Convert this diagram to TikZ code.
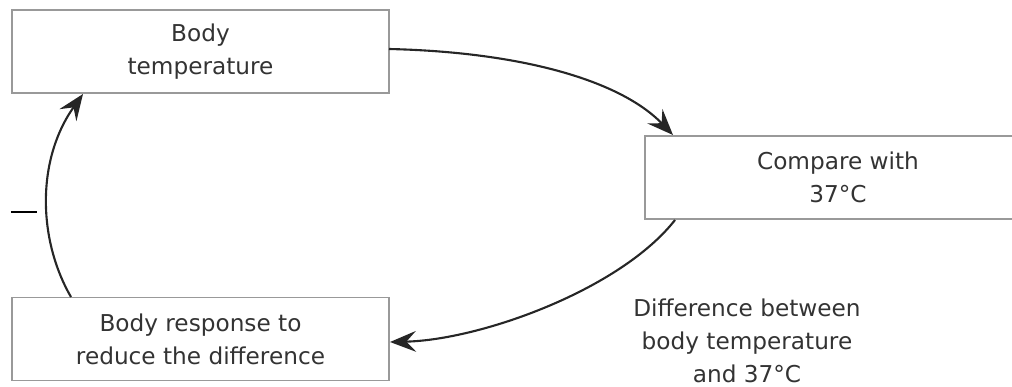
\documentclass[tikz,border=0pt]{standalone}
\usepackage{fontspec}
\setmainfont{DejaVu Sans}
\usetikzlibrary{arrows.meta}

\begin{document}
\begin{tikzpicture}[
    x=0.025cm, y=-0.025cm,
    box node/.style={draw=black!40, line width=1.2pt, minimum width=9.425cm,
        minimum height=2.08cm, align=center, inner sep=0pt,
        font=\fontsize{16.5}{23.5}\selectfont, text=black!80},
    loop edge/.style={line width=1.5pt, black!85,
        -{Stealth[length=6.5mm, width=5.2mm, inset=2.4mm]}},
    note/.style={align=center, font=\fontsize{16.5}{23.5}\selectfont, text=black!80}
]
    \useasboundingbox (0,0) rectangle (1012,387);
    \clip (0,0) rectangle (1012,387);
    \node[box node] (temp) at (200.5,51.5) {Body\\temperature};
    \node[box node, minimum width=9.65cm] (compare) at (838,177.5) {Compare with\\37°C};
    \node[box node] (response) at (200.5,339) {Body response to\\reduce the difference};
    \node[note] (diff) at (747,341) {Difference between\\body temperature\\and 37°C};
    \node[inner sep=0pt] (minus) at (24,212) {\rule{0.65cm}{0.065cm}};

    \coordinate (t1) at (389,49);
    \coordinate (c1) at (673,135);
    \coordinate (c2) at (675,220);
    \coordinate (r2) at (390,342);
    \coordinate (r3) at (71,297);
    \coordinate (t3) at (83,94);

    \draw[loop edge] (t1) .. controls (520,52) and (620,80) .. (c1);
    \draw[loop edge] (c2) .. controls (620,290) and (480,340) .. (r2);
    \draw[loop edge] (r3) .. controls (38,240) and (36,160) .. (t3);
\end{tikzpicture}
\end{document}
